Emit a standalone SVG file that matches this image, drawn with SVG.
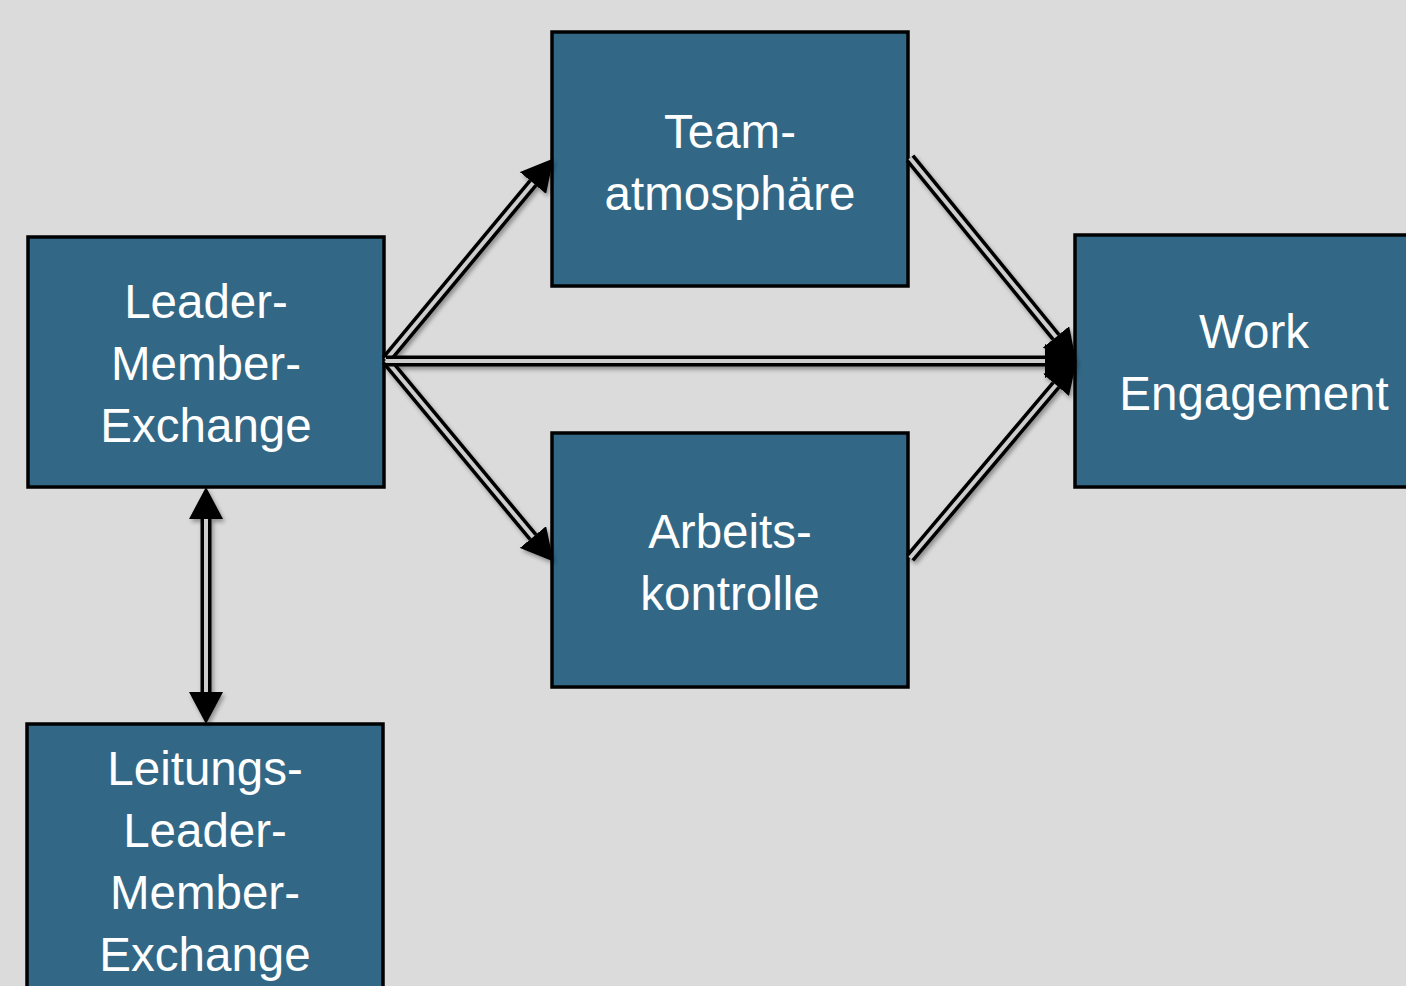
<svg xmlns="http://www.w3.org/2000/svg" width="1406" height="986" viewBox="0 0 1406 986">
<style>
.box{fill:#326886;stroke:#000;stroke-width:3.5}
.lbl{font-family:"Liberation Sans",Arial,sans-serif;font-size:47.5px;fill:#fff;text-anchor:middle}
.outer{fill:none;stroke:#000;stroke-width:11}
.inner{fill:none;stroke:#cdcdcd;stroke-width:4}
</style>
<defs>
<marker id="ah" markerUnits="userSpaceOnUse" markerWidth="32" markerHeight="34" refX="0" refY="17" orient="auto-start-reverse" viewBox="0 0 32 34">
<path d="M0,0 L32,17 L0,34 z" fill="#000"/>
</marker>
<filter id="sh" x="-10%" y="-10%" width="120%" height="120%">
<feDropShadow dx="2" dy="3" stdDeviation="2" flood-color="#000" flood-opacity="0.35"/>
</filter>
</defs>
<rect width="1406" height="986" fill="#dbdbdb"/>
<g id="lmx"><rect class="box" x="28" y="237" width="356" height="250"/>
<text class="lbl"><tspan x="206" y="318">Leader-</tspan><tspan x="206" y="380">Member-</tspan><tspan x="206" y="442">Exchange</tspan></text></g>
<g id="team"><rect class="box" x="552" y="32" width="356" height="254"/>
<text class="lbl"><tspan x="730" y="148">Team-</tspan><tspan x="730" y="210">atmosphäre</tspan></text></g>
<g id="arbeits"><rect class="box" x="552" y="433" width="356" height="254"/>
<text class="lbl"><tspan x="730" y="548">Arbeits-</tspan><tspan x="730" y="610">kontrolle</tspan></text></g>
<g id="work"><rect class="box" x="1075" y="235" width="345" height="252"/>
<text class="lbl"><tspan x="1254" y="348">Work</tspan><tspan x="1254" y="410">Engagement</tspan></text></g>
<g id="leitungs"><rect class="box" x="27" y="724" width="356" height="300"/>
<text class="lbl"><tspan x="205" y="785">Leitungs-</tspan><tspan x="205" y="847">Leader-</tspan><tspan x="205" y="909">Member-</tspan><tspan x="205" y="971">Exchange</tspan></text></g>
<g id="connectors" filter="url(#sh)">
<path class="outer" d="M386,360 L533,183" marker-end="url(#ah)"/>
<path class="inner" d="M386,360 L533,183"/>
<path class="outer" d="M386,360 L533,537" marker-end="url(#ah)"/>
<path class="inner" d="M386,360 L533,537"/>
<path class="outer" d="M386,361 L1045,361" marker-end="url(#ah)"/>
<path class="inner" d="M386,361 L1045,361"/>
<path class="outer" d="M910,158 L1056,337" marker-end="url(#ah)"/>
<path class="inner" d="M910,158 L1056,337"/>
<path class="outer" d="M910,558 L1056,385" marker-end="url(#ah)"/>
<path class="inner" d="M910,558 L1056,385"/>
<path class="outer" d="M206,519 L206,692" marker-start="url(#ah)" marker-end="url(#ah)"/>
<path class="inner" d="M206,519 L206,692"/>
</g>
</svg>
